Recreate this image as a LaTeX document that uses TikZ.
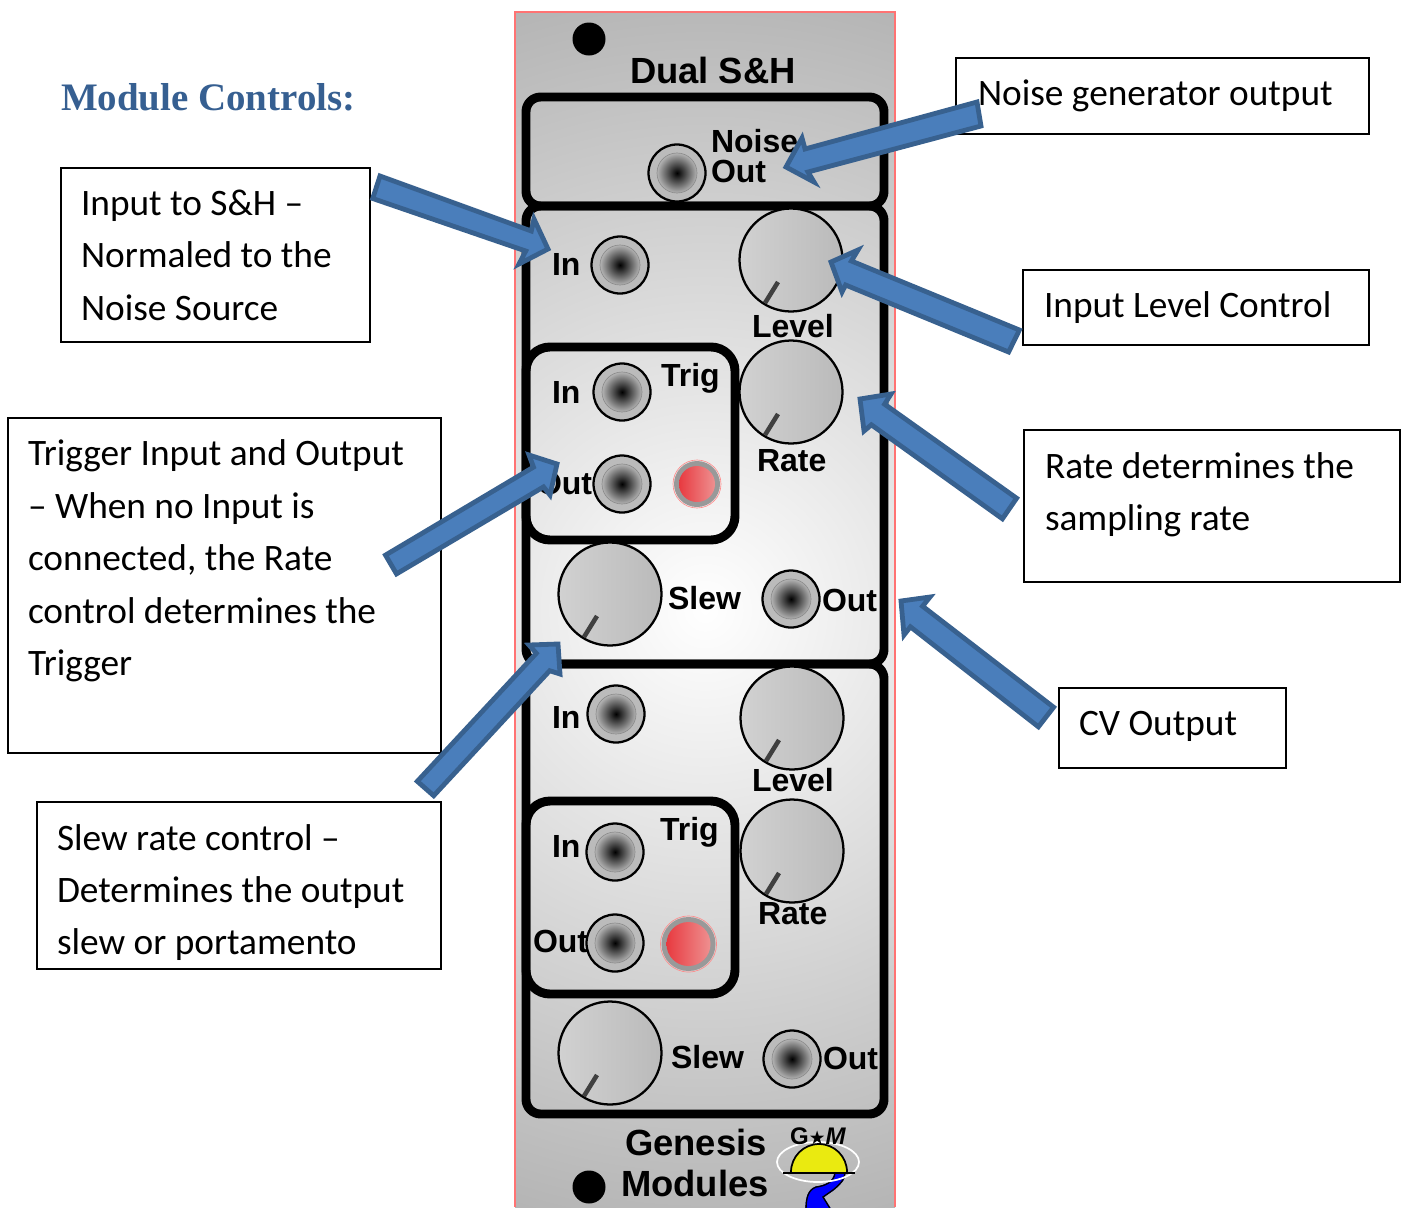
\documentclass[tikz,border=0pt]{standalone}
\usepackage{fontspec}
\setmainfont{Carlito}
\newfontfamily\panelfont{Liberation Sans}
\newfontfamily\headfont{Liberation Serif}
\newfontfamily\symfont{DejaVu Sans}
\definecolor{arrowfill}{HTML}{4A7EBB}
\definecolor{arrowline}{HTML}{38618F}
\definecolor{headblue}{HTML}{365F91}
\definecolor{panelmid}{HTML}{FFFFFF}
\definecolor{paneledge}{HTML}{B2B2B2}
\definecolor{jackedge}{HTML}{B4B4B4}
\definecolor{ledleft}{HTML}{E83A40}
\definecolor{ledright}{HTML}{EE9090}
\definecolor{domeyellow}{HTML}{EAEA10}
\pgfdeclareradialshading{panelshade}{\pgfpointorigin}{color(0bp)=(panelmid); color(25bp)=(paneledge); color(100bp)=(paneledge)}
\pgfdeclareradialshading{jackshade}{\pgfpointorigin}{color(0bp)=(black); color(25bp)=(jackedge); color(100bp)=(jackedge)}
\tikzset{
  every node/.style={inner sep=0pt,outer sep=0pt},
  tbox/.style={draw=black,line width=1.4pt,fill=white,anchor=north west},
  tline/.style={anchor=base west,font=\fontsize{28}{32}\selectfont,text=black},
  plabel/.style={anchor=base west,font=\panelfont\bfseries\fontsize{24}{28}\selectfont,text=black},
  pbig/.style={anchor=base west,font=\panelfont\bfseries\fontsize{27.3}{30}\selectfont,text=black},
  frame/.style={draw=black,line width=6.7pt,rounded corners=11pt},
  blockarrow/.style={fill=arrowfill,draw=arrowline,line width=3.6pt,line join=miter},
}
\newcommand{\jackat}[2]{%
  \fill[jackedge!90!white] (#1,#2) circle[radius=28.5];
  \draw[black,line width=1.7pt] (#1,#2) circle[radius=28.5];
  \shade[shading=jackshade] (#1,#2) circle[radius=20];
  \draw[black!45,line width=0.5pt] (#1,#2) circle[radius=20];
}
\newcommand{\knobat}[2]{%
  \shade[left color=black!18,right color=black!27] (#1,#2) circle[radius=51.5];
  \draw[black,line width=1.7pt] (#1,#2) circle[radius=51.5];
  \draw[black!75,line width=3.4pt] ([shift={(-26,43)}]#1,#2) -- ([shift={(-13,22)}]#1,#2);
}
\begin{document}
\begin{tikzpicture}[x=0.75pt,y=-0.75pt]
\useasboundingbox (0,0) rectangle (1405,1207);
\begin{scope}
\clip (0,0) rectangle (1405,1207);
% panel
\begin{scope}
\clip (515,12) rectangle (895,1207);
\fill[paneledge] (515,12) rectangle (895,1207);
\shade[shading=panelshade] (705,610) circle[radius=650];
\end{scope}
\draw[red!55!white,line width=0.8pt] (515,1207) -- (515,12) -- (895,12) -- (895,1207);
\fill[black] (589,39) circle[radius=16.5];
\fill[black] (589,1187) circle[radius=16.5];
% frames
\draw[frame] (526,97) rectangle (884,206);
\draw[frame] (526,206) rectangle (884,664);
\draw[frame] (526,664) rectangle (884,1114);
\draw[frame,rounded corners=18pt] (526,347) rectangle (735,540);
\draw[frame,rounded corners=18pt] (526,801) rectangle (735,994);
% knobs
\knobat{791}{260}
\knobat{791}{392}
\knobat{610}{594}
\knobat{792}{718}
\knobat{792}{851}
\knobat{610}{1053}
% jacks
\jackat{677}{173}
\jackat{620}{265}
\jackat{622}{392}
\jackat{622}{484}
\jackat{791}{599}
\jackat{616}{714}
\jackat{615}{852}
\jackat{615}{943}
\jackat{792}{1059}
% LEDs
\fill[black!40] (697,484) circle[radius=23];
\draw[red!45!white,line width=0.5pt] (697,484) circle[radius=24];
\shade[left color=ledleft,right color=ledright] (697,484) circle[radius=18];
\fill[black!40] (688.5,944) circle[radius=27];
\draw[red!45!white,line width=0.5pt] (688.5,944) circle[radius=28];
\shade[left color=ledleft,right color=ledright] (688.5,944) circle[radius=22];
% panel labels
\node[pbig] (title) at (630,83) {Dual S\&H};
\node[plabel] (noisea) at (711,152) {Noise};
\node[plabel] (noiseb) at (711,182) {Out};
\node[plabel] (ina) at (552,275) {In};
\node[plabel] (levela) at (752,337) {Level};
\node[plabel] (triga) at (661,386) {Trig};
\node[plabel] (inb) at (552,403) {In};
\node[plabel] (outa) at (537,494) {Out};
\node[plabel] (ratea) at (757,471) {Rate};
\node[plabel] (slewa) at (668,609) {Slew};
\node[plabel] (outb) at (822,611) {Out};
\node[plabel] (inc) at (552,728) {In};
\node[plabel] (levelb) at (752,791) {Level};
\node[plabel] (trigb) at (660,840) {Trig};
\node[plabel] (ind) at (552,857) {In};
\node[plabel] (outc) at (533,952) {Out};
\node[plabel] (rateb) at (758,924) {Rate};
\node[plabel] (slewb) at (671,1068) {Slew};
\node[plabel] (outd) at (823,1069) {Out};
\node[pbig] (gen) at (625,1155) {Genesis};
\node[pbig] (mod) at (621,1196) {Modules};
% logo
\draw[blue!95!black,fill=blue,line width=1pt] (835,1173) -- (845,1173) .. controls (845,1180) and (838,1186) .. (833,1190) -- (823,1197) -- (831,1210) -- (806,1210) .. controls (806,1198) and (808,1190) .. (816,1187) .. controls (825,1186) and (834,1182) .. (835,1173) -- cycle;
\draw[black,line width=1pt] (835,1173) .. controls (834,1182) and (825,1186) .. (816,1187) .. controls (808,1190) and (806,1198) .. (806,1210);
\draw[black,line width=1pt] (845,1173) .. controls (845,1180) and (838,1186) .. (833,1190) -- (823,1197) -- (831,1210);
\draw[white,line width=1.3pt] (818,1162) ellipse[x radius=41,y radius=20];
\fill[domeyellow] (791,1172) arc[start angle=180,end angle=360,radius=28] -- cycle;
\draw[black,line width=1.3pt] (791,1172) arc[start angle=180,end angle=360,radius=28];
\draw[black,line width=1.5pt] (783,1172.5) -- (855,1172.5);
\node[anchor=base,font=\panelfont\bfseries\fontsize{18}{20}\selectfont] (gsm) at (818,1144) {G{\symfont\fontsize{14}{20}\selectfont ★}\textit{M}};
% text boxes
\node[tbox,minimum width=309*0.75pt,minimum height=174*0.75pt] (bxin) at (61,168) {};
\node[tbox,minimum width=433*0.75pt,minimum height=335*0.75pt] (bxtrig) at (8,418) {};
\node[tbox,minimum width=404*0.75pt,minimum height=167*0.75pt] (bxslew) at (37,802) {};
\node[tbox,minimum width=413*0.75pt,minimum height=76*0.75pt] (bxnoise) at (956,58) {};
\node[tbox,minimum width=346*0.75pt,minimum height=75*0.75pt] (bxlevel) at (1023,270) {};
\node[tbox,minimum width=376*0.75pt,minimum height=152*0.75pt] (bxrate) at (1024,430) {};
\node[tbox,minimum width=227*0.75pt,minimum height=80*0.75pt] (bxcv) at (1059,688) {};
% text
\node[anchor=base west,font=\headfont\bfseries\fontsize{29.2}{32}\selectfont,text=headblue] (head) at (61,110) {Module Controls:};
\node[tline] (ta) at (81,215) {Input to S\&H –};
\node[tline] (tb) at (81,267) {Normaled to the};
\node[tline] (tc) at (81,320) {Noise Source};
\node[tline] (td) at (28,465) {Trigger Input and Output};
\node[tline] (te) at (28,518) {– When no Input is};
\node[tline] (tf) at (28,570) {connected, the Rate};
\node[tline] (tg) at (28,623) {control determines the};
\node[tline] (th) at (28,675) {Trigger};
\node[tline] (ti) at (57,850) {Slew rate control –};
\node[tline] (tj) at (57,902) {Determines the output};
\node[tline] (tk) at (57,954) {slew or portamento};
\node[tline] (tl) at (978,105) {Noise generator output};
\node[tline] (tm) at (1044,317) {Input Level Control};
\node[tline] (tn) at (1045,478) {Rate determines the};
\node[tline] (to) at (1045,530) {sampling rate};
\node[tline] (tp) at (1079,735) {CV Output};
% block arrows
\draw[blockarrow] (786,167) -- (802,138) -- (805,149) -- (977,102) -- (981,126) -- (808,172) -- (814,182) -- cycle;
\draw[blockarrow] (548,249) -- (534,219) -- (531.3,231) -- (380,176) -- (372.7,198.5) -- (525.7,251) -- (519,264) -- cycle;
\draw[blockarrow] (831,262) -- (858,250) -- (851.4,261) -- (1019.4,330) -- (1008.6,352) -- (845.6,285) -- (842,292) -- cycle;
\draw[blockarrow] (860,399) -- (891,394) -- (884.6,404.2) -- (1016.6,498.2) -- (1002.4,518.8) -- (871.4,424.8) -- (864,431) -- cycle;
\draw[blockarrow] (557,464) -- (529,455) -- (533.5,467.1) -- (385.5,555.1) -- (396.5,573.9) -- (543.5,486.9) -- (550,495) -- cycle;
\draw[blockarrow] (558,644) -- (529,645) -- (536.3,653.3) -- (417.3,781.3) -- (433.7,795.7) -- (549.7,670.7) -- (560,674) -- cycle;
\draw[blockarrow] (901,601) -- (930,597) -- (922.6,606.2) -- (1053.6,707.2) -- (1038.4,726.8) -- (910.4,626.8) -- (904,635) -- cycle;
\end{scope}
\end{tikzpicture}
\end{document}
